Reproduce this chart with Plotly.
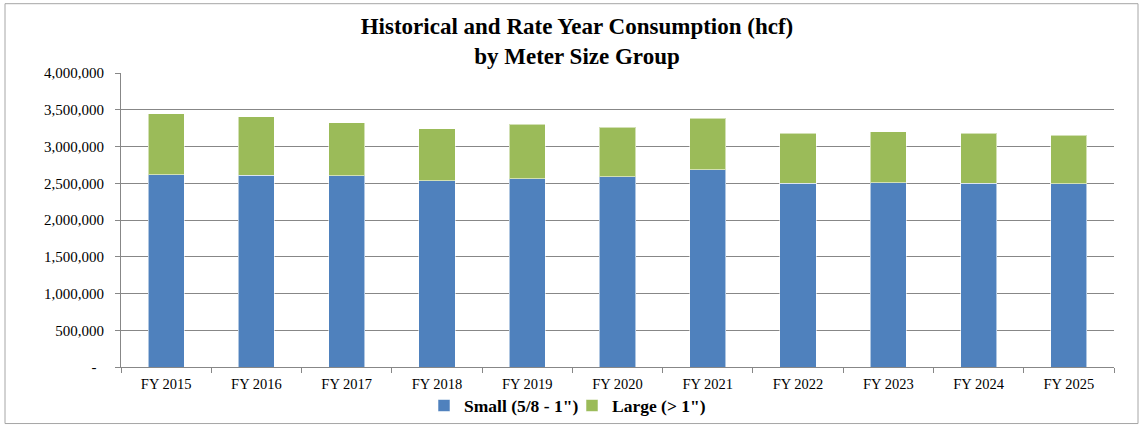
import plotly.graph_objects as go

years = ["FY 2015", "FY 2016", "FY 2017", "FY 2018", "FY 2019", "FY 2020",
         "FY 2021", "FY 2022", "FY 2023", "FY 2024", "FY 2025"]
small = [2613000, 2609000, 2600000, 2532000, 2559000, 2586000,
         2687000, 2497000, 2510000, 2501000, 2491000]
large = [833000, 797000, 724000, 711000, 742000, 674000,
         700000, 682000, 692000, 678000, 661000]

y_tickvals = [0, 500000, 1000000, 1500000, 2000000, 2500000, 3000000, 3500000, 4000000]
y_ticktext = ["-" + "\u00a0" * 2, "500,000", "1,000,000", "1,500,000", "2,000,000",
              "2,500,000", "3,000,000", "3,500,000", "4,000,000"]

BLUE = "#4F81BD"
GREEN = "#9BBB59"
GRID = "#878787"
FONT = "Liberation Serif, Times New Roman, serif"

fig = go.Figure()
fig.add_trace(go.Bar(name='Small (5/8 - 1")', x=years, y=small,
                     marker=dict(color=BLUE, line=dict(color="rgba(255,255,255,0.55)", width=1))))
fig.add_trace(go.Bar(name='Large (> 1")', x=years, y=large,
                     marker=dict(color=GREEN, line=dict(color="rgba(255,255,255,0.55)", width=1))))

L, R, T, B = 121, 29, 72.5, 59.7
W, H = 1143, 427
pw, ph = W - L - R, H - T - B

fig.update_layout(
    barmode="stack",
    bargap=0.6,
    width=W, height=H,
    margin=dict(l=L, r=R, t=T, b=B, pad=0, autoexpand=False),
    paper_bgcolor="white",
    plot_bgcolor="white",
    font=dict(family=FONT, color="black", size=13),
    title=dict(text="<b>Historical and Rate Year Consumption (hcf)<br>by Meter Size Group</b>",
               x=577 / W, xanchor="center", y=1 - 34 / H, yanchor="middle",
               font=dict(family=FONT, size=23, color="black")),
    showlegend=True,
    legend=dict(orientation="h", x=(424 - L) / pw, xanchor="left",
                y=(H - B - 406) / ph, yanchor="middle",
                entrywidth=103, entrywidthmode="pixels",
                font=dict(family=FONT, size=17.5, color="black", weight="bold"),
                bgcolor="rgba(0,0,0,0)", traceorder="normal"),
    xaxis=dict(showline=True, linecolor=GRID, linewidth=1, ticks="outside",
               tickson="boundaries", ticklen=5, tickcolor=GRID, automargin=False,
               ticklabelstandoff=4,
               tickfont=dict(family=FONT, size=14.5), showgrid=False),
    yaxis=dict(range=[0, 4000000], tickvals=y_tickvals, ticktext=y_ticktext,
               showgrid=True, gridcolor=GRID, gridwidth=1, automargin=False,
               showline=True, linecolor=GRID, linewidth=1,
               ticks="outside", ticklen=5, tickcolor=GRID, ticklabelstandoff=8,
               tickfont=dict(family=FONT, size=15), zeroline=False),
)

# outer chart border
fig.add_shape(type="rect", xref="paper", yref="paper",
              x0=(5 - L) / pw, x1=(1138 - L) / pw,
              y0=(H - B - 424) / ph, y1=(H - B - 3) / ph,
              line=dict(color="#A6A6A6", width=1), fillcolor="rgba(0,0,0,0)", layer="below")

fig.write_html("out.html", config={"displayModeBar": False},
               post_script="document.body.style.margin='0';document.body.style.overflow='hidden';")
